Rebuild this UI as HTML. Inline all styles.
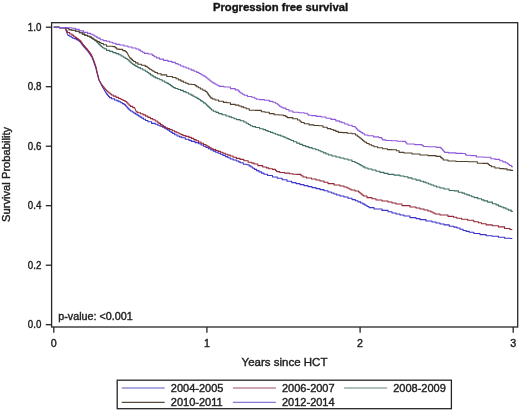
<!DOCTYPE html>
<html><head><meta charset="utf-8"><style>
html,body{margin:0;padding:0;background:#fff;width:520px;height:412px;overflow:hidden}
svg{display:block;will-change:transform}
text{font-family:"Liberation Sans",sans-serif;fill:#222;stroke:#222;stroke-width:0.4px}
.tk{font-size:10.7px}
.al{font-size:11.5px}
.pv{font-size:10.75px}
.lg{font-size:11px}
.ti{font-size:11.25px;font-weight:bold;fill:#111}
</style></head><body>
<svg width="520" height="412" viewBox="0 0 520 412">
<rect width="520" height="412" fill="#fff"/>
<rect x="51.6" y="22.7" width="466.1" height="304.3" fill="none" stroke="#262626" stroke-width="1.3"/>
<line x1="45.8" x2="51.6" y1="27.2" y2="27.2" stroke="#262626" stroke-width="1.3"/>
<text transform="translate(41.3,30.60) scale(0.91,1)" text-anchor="end" class="tk">1.0</text>
<line x1="45.8" x2="51.6" y1="86.7" y2="86.7" stroke="#262626" stroke-width="1.3"/>
<text transform="translate(41.3,90.10) scale(0.91,1)" text-anchor="end" class="tk">0.8</text>
<line x1="45.8" x2="51.6" y1="146.2" y2="146.2" stroke="#262626" stroke-width="1.3"/>
<text transform="translate(41.3,149.60) scale(0.91,1)" text-anchor="end" class="tk">0.6</text>
<line x1="45.8" x2="51.6" y1="205.7" y2="205.7" stroke="#262626" stroke-width="1.3"/>
<text transform="translate(41.3,209.10) scale(0.91,1)" text-anchor="end" class="tk">0.4</text>
<line x1="45.8" x2="51.6" y1="265.2" y2="265.2" stroke="#262626" stroke-width="1.3"/>
<text transform="translate(41.3,268.60) scale(0.91,1)" text-anchor="end" class="tk">0.2</text>
<line x1="45.8" x2="51.6" y1="324.7" y2="324.7" stroke="#262626" stroke-width="1.3"/>
<text transform="translate(41.3,328.10) scale(0.91,1)" text-anchor="end" class="tk">0.0</text>
<line x1="53.8" x2="53.8" y1="327.0" y2="332.8" stroke="#262626" stroke-width="1.3"/>
<text x="53.8" y="346.6" text-anchor="middle" class="tk">0</text>
<line x1="206.9" x2="206.9" y1="327.0" y2="332.8" stroke="#262626" stroke-width="1.3"/>
<text x="206.9" y="346.6" text-anchor="middle" class="tk">1</text>
<line x1="360.1" x2="360.1" y1="327.0" y2="332.8" stroke="#262626" stroke-width="1.3"/>
<text x="360.1" y="346.6" text-anchor="middle" class="tk">2</text>
<line x1="513.2" x2="513.2" y1="327.0" y2="332.8" stroke="#262626" stroke-width="1.3"/>
<text x="513.2" y="346.6" text-anchor="middle" class="tk">3</text>
<path d="M53.8 27.2 H59.40 V27.60 H65.00 L67.4 34.0 L68.2 35.5 H69.35 V36.30 H70.50 H71.25 V37.25 H72.75 V38.20 H73.50 H74.30 V38.60 H75.10 H76.25 V39.60 H77.40 H78.10 V40.60 H79.50 V41.60 H80.20 H80.60 V42.73 H81.40 V43.87 H82.20 V45.00 H82.60 H83.08 V46.07 H84.05 V47.13 H85.02 V48.20 H85.50 H86.00 V49.40 H87.00 V50.60 H88.00 V51.80 H88.50 H88.88 V52.90 H89.62 V54.00 H90.38 V55.10 H91.12 V56.20 H91.50 L93.5 61.2 L95.0 65.6 L95.8 68.0 L99.0 80.0 L102.0 86.0 L106.0 93.0 H106.50 V94.15 H107.50 V95.30 H108.50 V96.45 H109.50 V97.60 H110.00 H111.50 V98.80 H114.50 V100.00 H116.00 H117.00 V100.90 H119.00 V101.80 H120.00 H120.82 V102.73 H122.45 V103.67 H124.08 V104.60 H124.90 H125.38 V105.68 H126.34 V106.76 H127.30 V107.84 H128.26 V108.92 H129.22 V110.00 H129.70 H130.52 V111.03 H132.15 V112.07 H133.78 V113.10 H134.60 H135.40 V114.10 H137.00 V115.10 H138.60 V116.10 H139.40 H140.22 V117.13 H141.85 V118.17 H143.48 V119.20 H144.30 H145.53 V120.50 H147.97 V121.80 H149.20 H151.60 V123.40 H154.00 H155.22 V124.30 H157.68 V125.20 H158.90 H160.10 V126.25 H162.50 V127.30 H163.70 H164.52 V128.23 H166.15 V129.17 H167.78 V130.10 H168.60 H169.42 V131.23 H171.05 V132.37 H172.68 V133.50 H173.50 H174.70 V134.75 H177.10 V136.00 H178.30 H179.45 V136.90 H181.75 V137.80 H182.90 H185.30 V139.30 H187.70 H188.92 V140.35 H191.38 V141.40 H192.60 H195.00 V142.60 H197.40 H198.62 V143.80 H201.08 V145.00 H202.30 H203.53 V146.25 H205.97 V147.50 H207.20 H208.40 V148.70 H210.80 V149.90 H212.00 H213.22 V151.10 H215.68 V152.30 H216.90 H218.10 V153.25 H220.50 V154.20 H221.70 H222.92 V155.40 H225.38 V156.60 H226.60 H227.82 V157.80 H230.28 V159.00 H231.50 H233.12 V160.00 H236.38 V161.00 H238.00 H238.72 V161.90 H240.18 V162.80 H240.90 H243.30 V164.30 H245.70 H246.95 V164.80 H248.20 H249.10 V165.90 H250.90 V167.00 H251.80 H252.70 V168.20 H254.50 V169.40 H255.40 H256.62 V170.65 H259.07 V171.90 H260.30 H261.52 V173.10 H263.98 V174.30 H265.20 H267.60 V175.50 H270.00 H272.45 V177.00 H274.90 H277.30 V178.20 H279.70 H282.15 V179.80 H284.60 H287.05 V181.30 H289.50 H291.75 V182.60 H294.00 H296.00 V183.60 H298.00 H300.00 V184.60 H304.00 V185.60 H306.00 H308.00 V186.60 H312.00 V187.60 H314.00 H316.00 V188.60 H320.00 V189.60 H322.00 H324.00 V190.80 H328.00 V192.00 H330.00 H331.33 V193.00 H334.00 V194.00 H336.67 V195.00 H338.00 H340.00 V196.00 H344.00 V197.00 H346.00 H348.00 V198.30 H352.00 V199.60 H354.00 H355.33 V200.73 H358.00 V201.87 H360.67 V203.00 H362.00 H363.00 V204.15 H365.00 V205.30 H367.00 V206.45 H369.00 V207.60 H370.00 H374.00 V209.00 H378.00 H382.00 V210.40 H386.00 H388.00 V211.70 H392.00 V213.00 H394.00 H396.00 V214.00 H398.00 H400.00 V215.00 H404.00 V216.00 H406.00 H410.00 V217.60 H414.00 H416.00 V218.60 H420.00 V219.60 H422.00 H426.00 V221.00 H430.00 H432.00 V222.00 H436.00 V223.00 H438.00 H440.05 V223.95 H444.15 V224.90 H446.20 H449.25 V226.20 H452.30 H453.85 V227.10 H456.95 V228.00 H458.50 H460.02 V229.25 H463.08 V230.50 H464.60 H466.15 V231.40 H469.25 V232.30 H470.80 H473.85 V233.50 H476.90 H480.00 V234.60 H483.10 H486.15 V235.70 H489.20 H492.30 V236.20 H495.40 H498.45 V237.20 H501.50 H504.60 V238.20 H507.70 H510.00 V238.50 H512.30 H512.3" fill="none" stroke="#3b33cc" stroke-width="1.1" stroke-linejoin="round"/>
<path d="M53.8 27.2 H59.40 V27.60 H65.00 L66.6 30.9 H67.40 V32.50 H68.20 H69.70 V34.00 H71.20 H71.97 V35.15 H73.53 V36.30 H74.30 H75.08 V37.45 H76.62 V38.60 H77.40 H78.18 V39.75 H79.72 V40.90 H80.50 H80.92 V42.10 H81.75 V43.30 H82.58 V44.50 H83.00 H83.50 V45.67 H84.50 V46.83 H85.50 V48.00 H86.00 H86.50 V49.17 H87.50 V50.33 H88.50 V51.50 H89.00 H89.38 V52.62 H90.12 V53.75 H90.88 V54.88 H91.62 V56.00 H92.00 L94.0 61.0 L95.5 65.5 L96.3 68.0 L97.0 72.0 L99.0 80.0 L102.0 85.0 H102.40 V86.00 H103.20 V87.00 H104.00 V88.00 H104.80 V89.00 H105.60 V90.00 H106.00 H106.60 V91.00 H107.80 V92.00 H109.00 V93.00 H110.20 V94.00 H111.40 V95.00 H112.00 H113.33 V96.17 H116.00 V97.33 H118.67 V98.50 H120.00 H121.02 V99.50 H123.05 V100.50 H125.08 V101.50 H126.10 H126.70 V102.72 H127.90 V103.95 H129.10 V105.18 H130.30 V106.40 H130.90 H132.75 V107.60 H134.60 L136.4 111.9 H137.78 V112.80 H140.53 V113.70 H141.90 H143.10 V114.90 H145.50 V116.10 H146.70 H147.92 V117.35 H150.38 V118.60 H151.60 H152.82 V119.80 H155.28 V121.00 H156.50 H157.30 V122.20 H158.90 V123.40 H160.50 V124.60 H161.30 H162.12 V125.63 H163.75 V126.67 H165.38 V127.70 H166.20 H167.40 V128.60 H169.80 V129.50 H171.00 H172.22 V130.70 H174.68 V131.90 H175.90 H176.93 V132.80 H178.97 V133.70 H180.00 H181.00 V134.65 H183.00 V135.60 H184.00 H185.85 V136.40 H187.70 H188.92 V137.40 H191.38 V138.40 H192.60 H193.80 V139.60 H196.20 V140.80 H197.40 H198.62 V142.00 H201.08 V143.20 H202.30 H203.53 V144.45 H205.97 V145.70 H207.20 H208.00 V146.70 H209.60 V147.70 H211.20 V148.70 H212.00 H213.22 V149.60 H215.68 V150.50 H216.90 H218.10 V151.40 H220.50 V152.30 H221.70 H222.92 V153.25 H225.38 V154.20 H226.60 H227.82 V155.10 H230.28 V156.00 H231.50 H233.12 V157.20 H236.38 V158.40 H238.00 H240.00 V159.40 H242.00 H243.85 V160.70 H245.70 H248.15 V162.20 H250.60 H251.80 V163.10 H254.20 V164.00 H255.40 H257.85 V165.60 H260.30 H262.75 V167.00 H265.20 H266.40 V167.90 H268.80 V168.80 H270.00 H272.45 V169.40 H274.90 H275.50 V170.50 H276.70 V171.60 H277.30 H279.75 V172.50 H282.20 H284.60 V173.10 H287.00 H289.45 V173.70 H291.90 H292.95 V174.20 H294.00 H297.00 V174.40 H300.00 H301.00 V175.70 H303.00 V177.00 H304.00 H306.50 V178.00 H311.50 V179.00 H314.00 H316.00 V180.00 H320.00 V181.00 H322.00 H324.00 V182.30 H328.00 V183.60 H330.00 H334.00 V185.00 H338.00 H340.00 V186.00 H344.00 V187.00 H346.00 H347.00 V188.00 H349.00 V189.00 H351.00 V190.00 H352.00 H355.00 V191.00 H358.00 H358.60 V192.00 H359.80 V193.00 H361.00 V194.00 H362.20 V195.00 H363.40 V196.00 H364.00 H367.00 V197.60 H370.00 H372.00 V198.80 H376.00 V200.00 H378.00 H382.00 V201.00 H386.00 H388.00 V202.00 H392.00 V203.00 H394.00 H396.00 V204.00 H398.00 H402.00 V205.60 H406.00 H410.00 V207.00 H414.00 H416.00 V208.00 H420.00 V209.00 H422.00 H424.00 V210.00 H428.00 V211.00 H430.00 H431.00 V212.00 H433.00 V213.00 H435.00 V214.00 H436.00 H440.00 V215.00 H444.00 H448.00 V216.40 H452.00 H453.62 V217.30 H456.88 V218.20 H458.50 H461.55 V219.20 H464.60 H467.70 V220.30 H470.80 H473.85 V221.80 H476.90 H478.45 V222.80 H481.55 V223.80 H483.10 H486.15 V224.90 H489.20 H492.30 V225.80 H495.40 H498.45 V226.90 H501.50 H504.60 V228.50 H507.70 H510.00 V229.50 H512.30 H512.3" fill="none" stroke="#942838" stroke-width="1.1" stroke-linejoin="round"/>
<path d="M53.8 27.2 H59.40 V27.60 H65.00 H66.50 V28.50 H68.00 H69.00 V29.80 H70.00 H71.75 V30.20 H73.50 H75.45 V31.30 H77.40 H79.30 V32.80 H81.20 H82.40 V34.10 H84.80 V35.40 H86.00 H87.60 V36.20 H89.20 H89.97 V37.15 H91.53 V38.10 H92.30 H93.10 V39.25 H94.70 V40.40 H95.50 H96.02 V41.47 H97.05 V42.53 H98.08 V43.60 H98.60 H99.13 V44.63 H100.20 V45.67 H101.27 V46.70 H101.80 H102.58 V47.75 H104.12 V48.80 H104.90 H106.50 V50.40 H108.10 H109.70 V51.40 H111.30 H112.85 V52.60 H114.40 H116.00 V53.60 H117.60 H118.75 V54.80 H121.05 V56.00 H122.20 H123.20 V57.23 H125.20 V58.47 H127.20 V59.70 H128.20 H128.82 V60.90 H130.05 V62.10 H131.28 V63.30 H131.90 H132.70 V64.33 H134.30 V65.37 H135.90 V66.40 H136.70 H137.92 V67.60 H140.38 V68.80 H141.60 H142.82 V70.00 H145.28 V71.20 H146.50 H147.30 V72.43 H148.90 V73.67 H150.50 V74.90 H151.30 H152.12 V75.90 H153.75 V76.90 H155.38 V77.90 H156.20 H157.40 V78.80 H159.80 V79.70 H161.00 H162.22 V80.95 H164.68 V82.20 H165.90 H166.93 V83.40 H168.97 V84.60 H170.00 H170.67 V85.60 H172.00 V86.60 H173.33 V87.60 H174.00 H175.33 V88.53 H178.00 V89.47 H180.67 V90.40 H182.00 H183.33 V91.60 H186.00 V92.80 H188.67 V94.00 H190.00 H191.00 V95.10 H193.00 V96.20 H195.00 V97.30 H197.00 V98.40 H198.00 H198.80 V99.52 H200.40 V100.64 H202.00 V101.76 H203.60 V102.88 H205.20 V104.00 H206.00 H206.60 V105.20 H207.80 V106.40 H209.00 V107.60 H210.20 V108.80 H211.40 V110.00 H212.00 H213.33 V111.20 H216.00 V112.40 H218.67 V113.60 H220.00 H222.00 V114.80 H226.00 V116.00 H228.00 H229.22 V116.90 H231.68 V117.80 H232.90 H234.10 V118.70 H236.50 V119.60 H237.70 H240.15 V120.80 H242.60 H243.80 V122.05 H246.20 V123.30 H247.40 H248.32 V124.50 H250.18 V125.70 H251.10 H252.62 V126.60 H255.67 V127.50 H257.20 H259.60 V128.70 H262.00 H263.23 V129.65 H265.67 V130.60 H266.90 H268.10 V131.50 H270.50 V132.40 H271.70 H272.93 V133.30 H275.38 V134.20 H276.60 H277.95 V135.10 H280.65 V136.00 H282.00 H283.00 V136.85 H285.00 V137.70 H286.00 H287.02 V138.63 H289.05 V139.57 H291.08 V140.50 H292.10 H293.62 V141.80 H296.68 V143.10 H298.20 H299.70 V144.35 H302.70 V145.60 H304.20 H305.73 V146.60 H308.77 V147.60 H310.30 H312.12 V148.70 H315.78 V149.80 H317.60 H318.70 V150.80 H320.90 V151.80 H322.00 H323.33 V152.87 H326.00 V153.93 H328.67 V155.00 H330.00 H332.00 V156.00 H336.00 V157.00 H338.00 H340.00 V158.00 H344.00 V159.00 H346.00 H348.00 V160.00 H350.00 H352.00 V161.50 H354.00 H355.00 V162.50 H357.00 V163.50 H358.00 H359.00 V164.62 H361.00 V165.75 H363.00 V166.88 H365.00 V168.00 H366.00 H368.00 V169.00 H372.00 V170.00 H374.00 H376.00 V171.20 H380.00 V172.40 H382.00 H384.00 V173.40 H388.00 V174.40 H390.00 H394.00 V175.10 H398.00 H400.00 V175.95 H404.00 V176.80 H406.00 H408.00 V177.90 H412.00 V179.00 H414.00 H416.07 V180.10 H420.23 V181.20 H422.30 H423.52 V182.13 H425.95 V183.07 H428.38 V184.00 H429.60 H431.00 V185.00 H433.80 V186.00 H436.60 V187.00 H438.00 H440.00 V188.00 H444.00 V189.00 H446.00 H449.15 V190.50 H452.30 H454.15 V190.90 H456.00 H458.45 V192.20 H460.90 H462.10 V193.10 H464.50 V194.00 H465.70 H466.93 V194.90 H469.38 V195.80 H470.60 H471.80 V196.70 H474.20 V197.60 H475.40 H477.85 V198.80 H480.30 H481.52 V199.85 H483.98 V200.90 H485.20 H487.60 V202.10 H490.00 H492.45 V203.70 H494.90 H496.10 V204.90 H498.50 V206.10 H499.70 H500.93 V207.00 H503.38 V207.90 H504.60 H505.83 V209.00 H508.27 V210.10 H509.50 H511.15 V211.40 H512.80 H512.8" fill="none" stroke="#3d6d63" stroke-width="1.1" stroke-linejoin="round"/>
<path d="M53.8 27.2 H59.40 V27.60 H65.00 H66.50 V28.50 H68.00 H69.00 V29.80 H70.00 H71.75 V30.20 H73.50 H75.45 V31.30 H77.40 H79.30 V32.80 H81.20 H82.40 V34.10 H84.80 V35.40 H86.00 H87.60 V36.20 H89.20 H89.97 V37.15 H91.53 V38.10 H92.30 H93.10 V39.20 H94.70 V40.30 H95.50 H97.05 V41.60 H98.60 H99.40 V42.55 H101.00 V43.50 H101.80 H103.35 V44.70 H104.90 H106.50 V46.20 H108.10 H109.70 V46.30 H111.30 H112.85 V46.60 H114.40 H115.20 V47.85 H116.80 V49.10 H117.60 H119.25 V49.40 H120.90 H122.75 V50.60 H124.60 H125.20 V51.50 H126.40 V52.40 H127.00 L129.4 57.3 H130.01 V58.35 H131.24 V59.40 H132.46 V60.45 H133.69 V61.50 H134.30 H135.53 V62.85 H137.97 V64.20 H139.20 H141.60 V65.20 H144.00 H145.25 V66.40 H146.50 H147.10 V67.30 H148.30 V68.20 H148.90 H149.70 V69.20 H151.30 V70.20 H152.90 V71.20 H153.70 H154.92 V72.45 H157.38 V73.70 H158.60 H161.05 V74.90 H163.50 H166.75 V76.50 H170.00 H172.45 V77.50 H174.90 H176.10 V78.70 H178.50 V79.90 H179.70 H180.92 V81.10 H183.38 V82.30 H184.60 H185.80 V83.25 H188.20 V84.20 H189.40 H191.85 V84.50 H194.30 H195.12 V85.60 H196.75 V86.70 H198.38 V87.80 H199.20 H200.40 V89.00 H202.80 V90.20 H204.00 H205.25 V91.50 H206.50 H206.90 V92.70 H207.70 V93.90 H208.50 V95.10 H208.90 H209.30 V96.10 H210.10 V97.10 H210.90 V98.10 H211.30 H212.53 V99.05 H214.97 V100.00 H216.20 H218.60 V101.20 H221.00 H223.45 V102.40 H225.90 H226.95 V102.80 H228.00 H230.45 V104.40 H232.90 H235.30 V105.10 H237.70 H238.92 V106.00 H241.38 V106.90 H242.60 H243.80 V107.80 H246.20 V108.70 H247.40 H249.25 V110.30 H251.10 H255.35 V110.40 H259.60 H261.40 V111.70 H263.20 H265.05 V112.30 H266.90 H269.30 V113.60 H271.70 H274.15 V114.80 H276.60 H279.05 V115.00 H281.50 H283.30 V115.60 H285.10 H285.83 V116.60 H287.27 V117.60 H288.00 H289.00 V117.60 H290.00 H292.85 V118.80 H295.70 H297.55 V120.00 H299.40 H300.00 V121.25 H301.20 V122.50 H301.80 H304.25 V123.70 H306.70 H309.10 V124.90 H311.50 H313.95 V125.50 H316.40 H318.80 V125.80 H321.20 H323.05 V127.30 H324.90 H327.30 V128.60 H329.70 H330.93 V129.50 H333.38 V130.40 H334.60 H335.83 V131.40 H338.27 V132.40 H339.50 H342.20 V132.60 H344.90 H347.30 V133.20 H349.70 H352.15 V133.80 H354.60 H355.50 V135.05 H357.30 V136.30 H358.20 H358.82 V137.30 H360.05 V138.30 H361.28 V139.30 H361.90 H362.50 V140.30 H363.70 V141.30 H364.90 V142.30 H365.50 H366.73 V143.55 H369.17 V144.80 H370.40 H371.60 V145.80 H374.00 V146.80 H375.20 H377.65 V147.80 H380.10 H382.55 V148.80 H385.00 H387.40 V149.60 H389.80 H392.25 V149.70 H394.70 H396.50 V150.80 H398.30 H399.15 V152.40 H400.00 H404.00 V153.00 H408.00 H412.00 V154.00 H416.00 H420.00 V155.00 H424.00 H428.00 V155.60 H432.00 H436.00 V156.40 H440.00 H440.67 V157.60 H442.00 V158.80 H443.33 V160.00 H444.00 H448.00 V161.00 H452.00 H456.00 V161.50 H460.00 H468.35 V161.70 H476.70 H477.30 V163.20 H477.90 H482.75 V163.40 H487.60 H488.20 V164.45 H489.40 V165.50 H490.00 H491.25 V166.70 H492.50 H494.90 V168.00 H497.30 H499.75 V168.60 H502.20 H504.00 V168.90 H505.80 H507.00 V169.90 H508.20 H510.60 V170.40 H513.00 H513.0" fill="none" stroke="#52422c" stroke-width="1.1" stroke-linejoin="round"/>
<path d="M53.8 27.2 H59.40 V27.60 H65.00 H67.50 V27.80 H70.00 H72.00 V28.30 H74.00 H75.70 V29.40 H77.40 H79.30 V30.90 H81.20 H83.60 V32.40 H86.00 H87.60 V33.40 H89.20 H90.75 V34.30 H92.30 H93.10 V35.25 H94.70 V36.20 H95.50 H96.28 V37.15 H97.82 V38.10 H98.60 H100.20 V39.70 H101.80 H103.35 V40.60 H104.90 H106.50 V41.30 H108.10 H109.70 V42.20 H111.30 H112.85 V43.20 H114.40 H116.00 V44.40 H117.60 H119.80 V45.00 H122.00 H124.00 V46.00 H128.00 V47.00 H130.00 H132.00 V48.00 H136.00 V49.00 H138.00 H138.90 V50.10 H140.70 V51.20 H142.50 V52.30 H144.30 V53.40 H145.20 H148.25 V54.00 H151.30 H152.23 V55.35 H154.07 V56.70 H155.00 H156.50 V57.90 H159.50 V59.10 H161.00 H163.50 V60.40 H166.00 H168.00 V61.40 H172.00 V62.40 H174.00 H175.33 V63.60 H178.00 V64.80 H180.67 V66.00 H182.00 H183.33 V67.00 H186.00 V68.00 H188.67 V69.00 H190.00 H191.33 V70.13 H194.00 V71.27 H196.67 V72.40 H198.00 H199.00 V73.55 H201.00 V74.70 H203.00 V75.85 H205.00 V77.00 H206.00 H206.60 V78.00 H207.80 V79.00 H209.00 V80.00 H210.20 V81.00 H211.40 V82.00 H212.00 H213.00 V83.10 H215.00 V84.20 H217.00 V85.30 H219.00 V86.40 H220.00 H224.00 V87.00 H228.00 H230.45 V88.60 H232.90 H235.30 V89.90 H237.70 H238.32 V91.10 H239.57 V92.30 H240.20 H241.00 V93.30 H242.60 V94.30 H244.20 V95.30 H245.00 H247.45 V96.50 H249.90 H251.70 V97.20 H253.50 H254.43 V98.25 H256.27 V99.30 H257.20 H259.60 V99.60 H262.00 H264.45 V100.20 H266.90 H269.30 V101.40 H271.70 H272.93 V102.30 H275.38 V103.20 H276.60 H277.20 V104.23 H278.40 V105.27 H279.60 V106.30 H280.20 H281.12 V107.20 H282.97 V108.10 H283.90 H285.95 V109.50 H288.00 H289.00 V111.00 H290.00 H292.85 V112.20 H295.70 H298.75 V112.80 H301.80 H304.25 V113.30 H306.70 H307.30 V114.25 H308.50 V115.20 H309.10 H311.50 V115.60 H313.90 H316.35 V116.40 H318.80 H321.25 V117.00 H323.70 H326.10 V118.20 H328.50 H330.95 V119.40 H333.40 H335.80 V120.90 H338.20 H339.43 V121.85 H341.88 V122.80 H343.10 H344.75 V124.05 H348.05 V125.30 H349.70 H352.15 V126.50 H354.60 H355.20 V127.73 H356.40 V128.97 H357.60 V130.20 H358.20 H359.12 V131.40 H360.97 V132.60 H361.90 H362.80 V133.80 H364.60 V135.00 H365.50 H367.95 V135.70 H370.40 H373.45 V136.90 H376.50 H378.90 V137.60 H381.30 H381.75 V138.75 H382.65 V139.90 H383.10 H385.85 V140.50 H388.60 H391.65 V140.80 H394.70 H397.35 V141.30 H400.00 H402.50 V141.40 H405.00 H405.62 V142.70 H406.88 V144.00 H407.50 H414.50 V144.60 H421.50 H422.12 V145.55 H423.38 V146.50 H424.00 H428.00 V146.80 H432.00 H436.25 V147.40 H440.50 H441.00 V148.45 H442.00 V149.50 H442.50 H442.92 V150.47 H443.75 V151.43 H444.58 V152.40 H445.00 H448.50 V152.90 H452.00 H456.00 V153.40 H460.00 H462.55 V153.50 H465.10 H465.40 V154.35 H466.00 V155.20 H466.30 H470.85 V155.60 H475.40 H476.35 V157.00 H477.30 H483.65 V157.30 H490.00 H490.90 V158.80 H491.80 H495.15 V159.40 H498.50 H499.75 V160.70 H501.00 H502.80 V161.90 H504.60 H505.50 V162.80 H507.30 V163.70 H508.20 H508.68 V164.60 H509.62 V165.50 H510.10 H511.55 V166.80 H513.00 H513.0" fill="none" stroke="#8f5ad8" stroke-width="1.1" stroke-linejoin="round"/>
<text x="280.5" y="10.9" text-anchor="middle" class="ti">Progression free survival</text>
<text x="284.5" y="366.2" text-anchor="middle" class="al">Years since HCT</text>
<text transform="translate(9.7,174.4) rotate(-90)" text-anchor="middle" class="al" style="font-size:11.2px">Survival Probability</text>
<text x="58.3" y="319.6" class="pv">p-value: &lt;0.001</text>
<rect x="117.2" y="380.2" width="334.2" height="28.5" fill="none" stroke="#262626" stroke-width="1.3"/>
<line x1="121.7" x2="164.7" y1="388.0" y2="388.0" stroke="#5c56c0" stroke-width="1.2"/>
<text x="170.8" y="391.6" class="lg">2004-2005</text>
<line x1="232.9" x2="275.9" y1="388.0" y2="388.0" stroke="#9a5064" stroke-width="1.2"/>
<text x="282.0" y="391.6" class="lg">2006-2007</text>
<line x1="344.1" x2="387.1" y1="388.0" y2="388.0" stroke="#66827a" stroke-width="1.2"/>
<text x="393.2" y="391.6" class="lg">2008-2009</text>
<line x1="121.7" x2="164.7" y1="402.4" y2="402.4" stroke="#5a4c3c" stroke-width="1.2"/>
<text x="170.8" y="406.0" class="lg">2010-2011</text>
<line x1="232.9" x2="275.9" y1="402.4" y2="402.4" stroke="#8a76d0" stroke-width="1.2"/>
<text x="282.0" y="406.0" class="lg">2012-2014</text>
</svg>
</body></html>
